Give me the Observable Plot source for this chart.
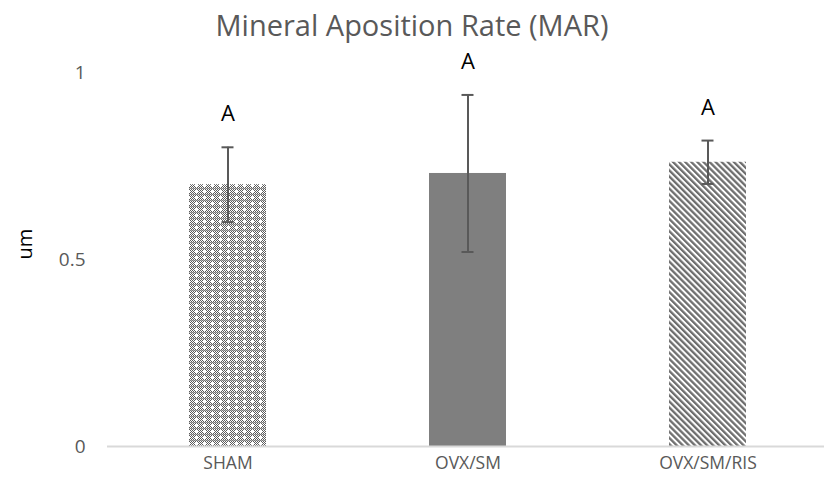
<!DOCTYPE html>
<html><head><meta charset="utf-8">
<script src="https://cdn.jsdelivr.net/npm/d3@7"></script>
<script src="https://cdn.jsdelivr.net/npm/@observablehq/plot@0.6"></script>
<style>
html,body{margin:0;padding:0;background:#fff;}
#title{height:50px;width:824px;text-align:center;font-family:"Open Sans",sans-serif;font-size:29px;color:#595959;line-height:50px;}
</style></head>
<body>
<div id="title">Mineral Aposition Rate (MAR)</div>
<div id="chart"></div>
<script>
const groups = ["SHAM", "OVX/SM", "OVX/SM/RIS"];
const means = [0.70, 0.73, 0.76];
const errors = [0.10, 0.21, 0.058];
const letters = ["A", "A", "A"];
const fills = ["url(#patDots)", "#7f7f7f", "url(#patDiag)"];
const yTicks = [0, 0.5, 1];
const yTitle = "um";

const data = groups.map((g, i) => ({group: g, mean: means[i], lo: means[i] - errors[i], hi: means[i] + errors[i], letter: letters[i], fill: fills[i]}));

const plot = Plot.plot({
  width: 824,
  height: 436,
  marginLeft: 107,
  marginRight: 0,
  marginTop: 22,
  marginBottom: 40,
  style: {fontFamily: "'Open Sans', sans-serif", background: "#fff", overflow: "visible"},
  x: {domain: groups, range: [107, 827], paddingInner: 0.68, paddingOuter: 0.34},
  y: {domain: [0, 1], range: [396, 22]},
  color: {type: "identity"},
  marks: [
    Plot.barY(data, {x: "group", y: "mean", fill: "fill"}),
    Plot.ruleY([0], {stroke: "#d9d9d9", strokeWidth: 2}),
    Plot.axisX({tickSize: 0, tickPadding: 10, fontSize: 17.5, fill: "#595959", label: null}),
    Plot.axisY(yTicks, {tickSize: 0, tickPadding: 22, fontSize: 19, fill: "#595959", label: null, tickFormat: d => String(d)}),
    Plot.ruleX(data, {x: "group", y1: "lo", y2: "hi", stroke: "#595959", strokeWidth: 2}),
    Plot.tickY(data, {x: "group", y: "hi", stroke: "#595959", strokeWidth: 2}),
    Plot.tickY(data, {x: "group", y: "lo", stroke: "#595959", strokeWidth: 2}),
    Plot.text(data, {x: "group", y: "hi", text: "letter", dy: -33, fontSize: 22, fill: "#000"}),
    Plot.text([yTitle], {frameAnchor: "left", text: d => d, rotate: -90, dx: -82, fontSize: 20, fill: "#000"})
  ]
});
document.getElementById("chart").appendChild(plot);

const svg = d3.select(plot);
const defs = svg.insert("defs", ":first-child");
const p1 = defs.append("pattern").attr("id", "patDots").attr("patternUnits", "userSpaceOnUse").attr("width", 8).attr("height", 6);
p1.append("rect").attr("width", 8).attr("height", 6).attr("fill", "#fff");
for (let yy = 0; yy < 6; yy++) for (let xx = 0; xx < 8; xx++) {
  if ((xx + yy) % 2 === 0 && !(xx >= 3 && xx <= 5 && yy >= 2 && yy <= 4)) p1.append("rect").attr("x", xx).attr("y", yy).attr("width", 1).attr("height", 1).attr("fill", "#5a5a5a");
}
p1.append("rect").attr("x", 0).attr("y", 0).attr("width", 8).attr("height", 1).attr("fill", "#8a8a8a").attr("opacity", 0.6);
const p2 = defs.append("pattern").attr("id", "patDiag").attr("patternUnits", "userSpaceOnUse").attr("width", 4.3).attr("height", 4.3).attr("patternTransform", "rotate(-45)");
p2.append("rect").attr("width", 4.3).attr("height", 4.3).attr("fill", "#fff");
p2.append("rect").attr("width", 2.3).attr("height", 4.3).attr("fill", "#6e6e6e");

svg.selectAll("[aria-label='tick'] line").each(function() {
  const l = d3.select(this);
  const x1 = +l.attr("x1"), x2 = +l.attr("x2");
  const c = (x1 + x2) / 2;
  l.attr("x1", c - 6).attr("x2", c + 6);
});
</script>
</body></html>
